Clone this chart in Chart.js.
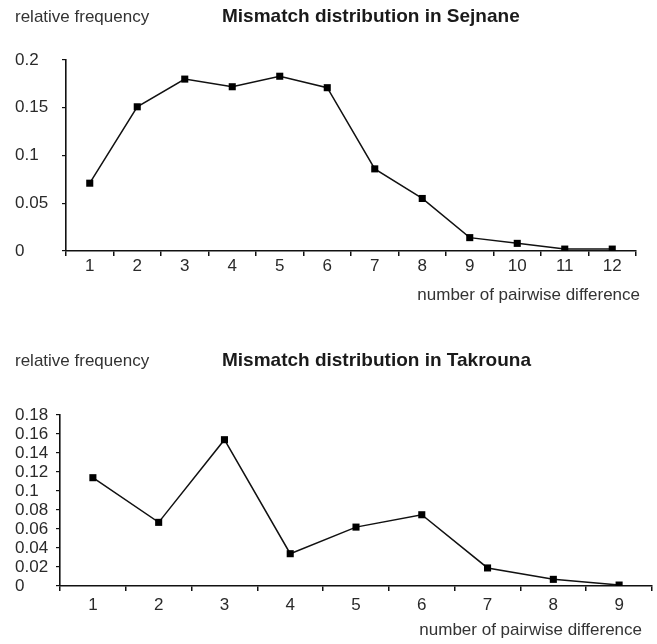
<!DOCTYPE html>
<html>
<head>
<meta charset="utf-8">
<script src="https://cdn.jsdelivr.net/npm/chart.js@4.4.1/dist/chart.umd.min.js"></script>
<style>
  body { margin: 0; background: #fff; }
  .box { position: absolute; left: 0; width: 657px; }
</style>
</head>
<body>
<div class="box" style="top:0;height:320px"><canvas id="sejnaneChart"></canvas></div>
<div class="box" style="top:320px;height:324px"><canvas id="takrounaChart"></canvas></div>
<script>
// values
const sejnaneDiffs = ['1', '2', '3', '4', '5', '6', '7', '8', '9', '10', '11', '12'];
const sejnaneFreq = [0.071, 0.151, 0.180, 0.172, 0.183, 0.171, 0.086, 0.055, 0.014, 0.008, 0.002, 0.002];
const sejnaneTicks = ['0', '0.05', '0.1', '0.15', '0.2'];

const takrounaDiffs = ['1', '2', '3', '4', '5', '6', '7', '8', '9'];
const takrounaFreq = [0.114, 0.067, 0.154, 0.034, 0.062, 0.075, 0.019, 0.007, 0.001];
const takrounaTicks = ['0', '0.02', '0.04', '0.06', '0.08', '0.1', '0.12', '0.14', '0.16', '0.18'];

const FONT = 'Liberation Sans, Arial, sans-serif';

// header, title and x label sit outside the normal chart.js boxes
const textPlugin = {
  id: 'sideTexts',
  afterDraw(chart, args, opts) {
    const ctx = chart.ctx;
    ctx.save();
    ctx.textBaseline = 'middle';
    ctx.textAlign = 'left';
    ctx.fillStyle = '#333';
    ctx.font = '17px ' + FONT;
    ctx.fillText('relative frequency', 15, opts.headY);
    ctx.fillStyle = '#1a1a1a';
    ctx.font = 'bold 19px ' + FONT;
    ctx.fillText(opts.title, 222, opts.headY);
    ctx.fillStyle = '#333';
    ctx.font = '17px ' + FONT;
    ctx.textAlign = 'right';
    ctx.fillText('number of pairwise difference', opts.xLabelRight, opts.xLabelY);
    ctx.restore();
  }
};

function makeChart(id, labels, values, tickLabels, step, max, layout) {
  const ctx = document.getElementById(id).getContext('2d');
  return new Chart(ctx, {
    type: 'line',
    data: {
      labels: labels,
      datasets: [{
        data: values,
        borderColor: '#111',
        borderWidth: 1.5,
        pointStyle: 'rect',
        pointRadius: 5,
        pointBackgroundColor: '#000',
        pointBorderColor: '#000',
        pointBorderWidth: 0,
        tension: 0,
        fill: false,
      }],
    },
    options: {
      responsive: true,
      maintainAspectRatio: false,
      animation: false,
      layout: { padding: layout.padding },
      plugins: {
        legend: { display: false },
        tooltip: { enabled: false },
        sideTexts: layout.texts,
      },
      scales: {
        x: {
          offset: true,
          grid: { offset: true, drawOnChartArea: false, tickLength: layout.xTick, color: '#111', lineWidth: 1.5 },
          border: { color: '#111', width: 1.6 },
          ticks: { color: '#2a2a2a', font: { family: FONT, size: 17 }, padding: layout.xPad, maxRotation: 0, autoSkip: false },
          afterFit: (s) => { s.height = 30; },
        },
        y: {
          min: 0,
          max: max,
          grid: { drawOnChartArea: false, tickLength: 4, color: '#111', lineWidth: 1.2 },
          border: { color: '#111', width: 1.6 },
          ticks: {
            stepSize: step,
            autoSkip: false,
            crossAlign: 'far',
            color: '#2a2a2a',
            font: { family: FONT, size: layout.yFont },
            callback: (v) => tickLabels[Math.round(v / step)],
          },
          afterFit: (s) => { s.width = layout.yWidth; },
        },
      },
    },
    plugins: [textPlugin],
  });
}

makeChart('sejnaneChart', sejnaneDiffs, sejnaneFreq, sejnaneTicks, 0.05, 0.2, {
  padding: { top: 60, right: 21, bottom: 39, left: 15 },
  yWidth: 51,
  yFont: 17,
  xTick: 5,
  xPad: 0,
  texts: { title: 'Mismatch distribution in Sejnane', headY: 17, xLabelRight: 640, xLabelY: 295 },
});

makeChart('takrounaChart', takrounaDiffs, takrounaFreq, takrounaTicks, 0.02, 0.18, {
  padding: { top: 95, right: 4, bottom: 28, left: 15 },
  yWidth: 45,
  yFont: 17,
  xTick: 5,
  xPad: 4,
  texts: { title: 'Mismatch distribution in Takrouna', headY: 41, xLabelRight: 642, xLabelY: 310 },
});
</script>
</body>
</html>
